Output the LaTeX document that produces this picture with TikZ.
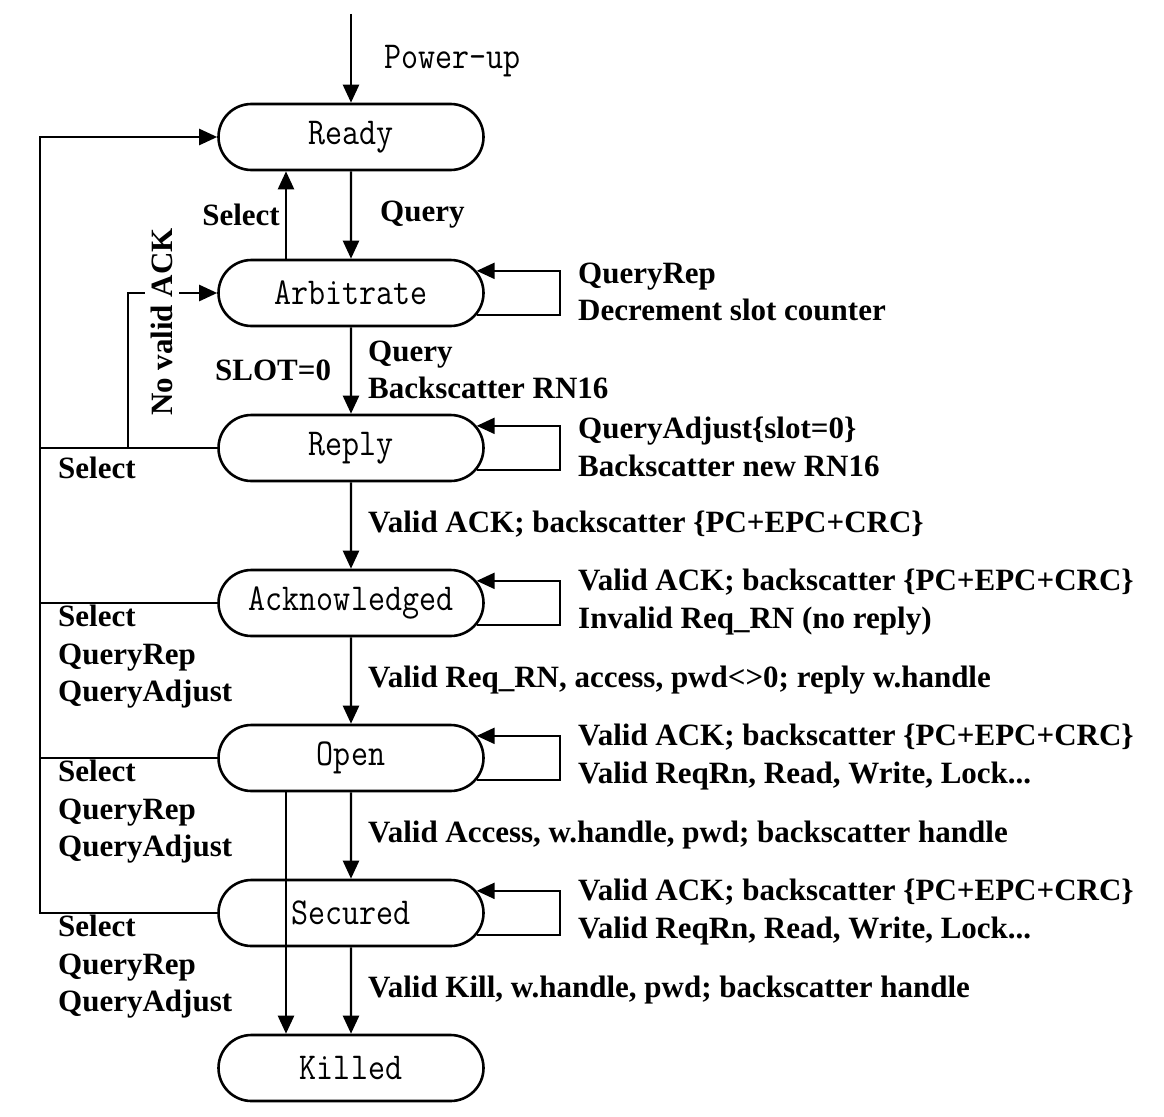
\documentclass[tikz,border=0pt]{standalone}
\usepackage{fontspec}
\setmainfont{Liberation Serif}
\newfontfamily\statefont[FakeStretch=0.87]{Latin Modern Mono}
\usetikzlibrary{shapes.misc,arrows.meta,calc}
\begin{document}
\begin{tikzpicture}[x=1pt,y=-1pt,
 state/.style={rounded rectangle, draw, line width=2.6pt, minimum width=265pt, minimum height=66pt, inner sep=0pt, font=\statefont\fontsize{38}{38}\selectfont},
 conn/.style={line width=2.4pt},
 arr/.style={conn,-{Triangle[length=18pt,width=16pt]}},
 lab/.style={font=\bfseries\fontsize{31}{37.5}\selectfont, inner sep=0pt, anchor=west, align=left},
 mono/.style={font=\statefont\fontsize{38}{38}\selectfont, inner sep=0pt, anchor=west}
]
\useasboundingbox (0,0) rectangle (1164,1116);
\node[state] (rdy) at (351,137) {Ready};
\node[state] (arb) at (351,293) {Arbitrate};
\node[state] (rep) at (351,448) {Reply};
\node[state] (ack) at (351,603) {Acknowledged};
\node[state] (opn) at (351,758) {Open};
\node[state] (sec) at (351,913) {Secured};
\node[state] (kil) at (351,1068) {Killed};

\coordinate (pu) at (351,14);
\coordinate (sx) at (286,0);
\coordinate (lx) at (560,0);
\coordinate (L) at (40,137);
\coordinate (nv) at (128,0);

% power-up
\draw[arr] (pu) -- (rdy);
\node[mono] (pwr) at (384,61) {Power-up};

% main chain
\draw[arr] (rdy) -- (arb);
\draw[arr] (arb.north -| sx) -- (rdy.south -| sx);
\draw[arr] (arb) -- (rep);
\draw[arr] (rep) -- (ack);
\draw[arr] (ack) -- (opn);
\draw[arr] (opn) -- (sec);
\draw[arr] (sec) -- (kil);
\draw[arr] (opn.south -| sx) -- (kil.north -| sx);

% self loops
\foreach \s in {arb,rep,ack,opn,sec}{
  \draw[arr] (\s.-10) -- (\s.-10 -| lx) |- (\s.10);
}

% left return paths
\draw[arr] (sec.west) -| (L) -- (rdy.west);
\draw[conn] (rep.west) -- (rep.west -| L);
\draw[conn] (ack.west) -- (ack.west -| L);
\draw[conn] (opn.west) -- (opn.west -| L);
\draw[arr] (rep.west -| nv) |- (arb.west);
\node[lab, rotate=90, fill=white, anchor=center, inner xsep=0pt, inner ysep=6pt] (nva) at (162,322) {No valid ACK};

% labels
\node[lab, anchor=east] (lsel) at (280,215) {Select};
\node[lab] (lq) at (380,215) {Query};
\node[lab] (lslot) at (215,370) {SLOT=0};
\node[lab] (lqb) at (368,370) {Query\\Backscatter RN16};
\node[lab] (l1) at (578,292) {QueryRep\\Decrement slot counter};
\node[lab] (l2) at (578,447) {QueryAdjust\{slot=0\}\\Backscatter new RN16};
\node[lab] (l3) at (578,602) {Valid ACK; backscatter \{PC+EPC+CRC\}\\Invalid Req\_RN (no reply)};
\node[lab] (l4) at (578,757) {Valid ACK; backscatter \{PC+EPC+CRC\}\\Valid ReqRn, Read, Write, Lock...};
\node[lab] (l5) at (578,912) {Valid ACK; backscatter \{PC+EPC+CRC\}\\Valid ReqRn, Read, Write, Lock...};
\node[lab] (m1) at (368,524) {Valid ACK; backscatter \{PC+EPC+CRC\}};
\node[lab] (m2) at (368,680) {Valid Req\_RN, access, pwd<>0; reply w.handle};
\node[lab] (m3) at (368,835) {Valid Access, w.handle, pwd; backscatter handle};
\node[lab] (m4) at (368,990) {Valid Kill, w.handle, pwd; backscatter handle};
\node[lab] (s1) at (58,468) {Select};
\node[lab] (s2) at (58,657) {Select\\QueryRep\\QueryAdjust};
\node[lab] (s3) at (58,812) {Select\\QueryRep\\QueryAdjust};
\node[lab] (s4) at (58,967) {Select\\QueryRep\\QueryAdjust};
\end{tikzpicture}
\end{document}
